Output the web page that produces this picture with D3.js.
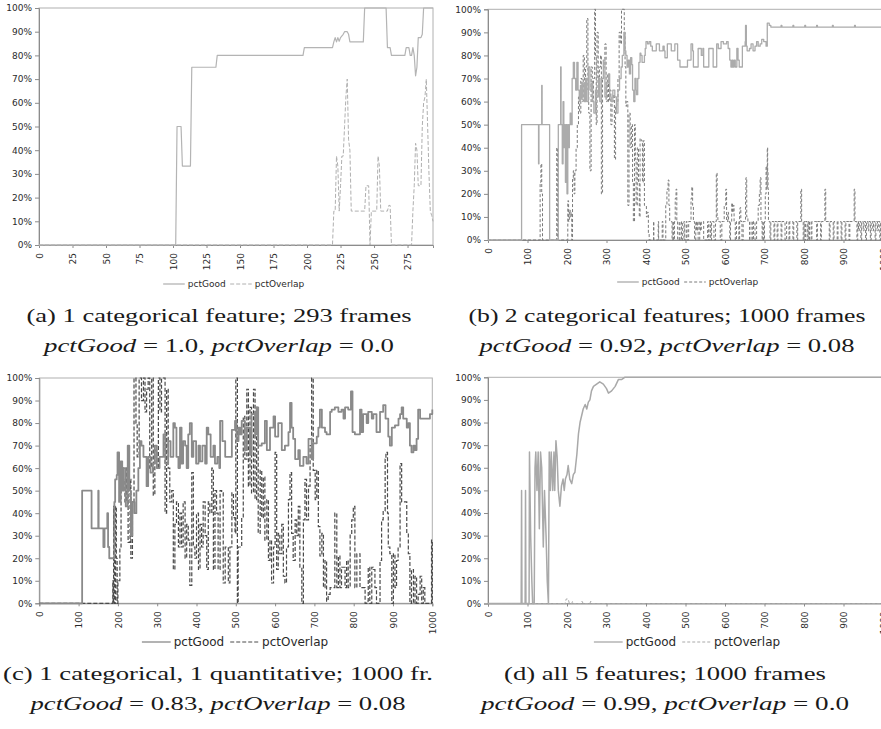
<!DOCTYPE html>
<html>
<head>
<meta charset="utf-8">
<script src="https://cdn.jsdelivr.net/npm/d3@7"></script>
<style>
  body { margin: 0; background: #fff; }
  svg { display: block; }
</style>
</head>
<body>
<script>
// tick labels
const yTicks = [0, 10, 20, 30, 40, 50, 60, 70, 80, 90, 100];
const ticks293 = [0, 25, 50, 75, 100, 125, 150, 175, 200, 225, 250, 275];
const ticks1000 = [0, 100, 200, 300, 400, 500, 600, 700, 800, 900, 1000];
const seriesNames = ['pctGood', 'pctOverlap'];

// (a) 1 categorical feature, 293 frames  [frame, percent]
const goodA = [[0,0],[102,0],[103,50],[106,50],[107,33.3],[113,33.3],[114,75],[132,75],[133,80],[197,80],[198,83.3],
  [219,83.3],[220,85.7],[221,87.5],[222,85.7],[223,87.5],[224,86],[225,87.5],[227,88.9],[228,90],[230,90],[231,88.9],
  [232,85.7],[242,85.7],[243,100],[259,100],[260,83.3],[262,83.3],[263,80],[273,80],[274,83.3],[276,83.3],[277,80],
  [278,80],[279,83.3],[280,80],[281,71.4],[282,75],[283,87.5],[285,87.5],[286,88.9],[287,100],[294,100]];
const overlapA = [[0,0],[219,0],[220,14.3],[221,14.3],[222,37.5],[223,33.3],[224,14.3],[225,25],[226,37.5],[227,37.5],
  [228,50],[229,62.5],[230,70],[231,44.4],[232,40],[233,14.3],[243,14.3],[244,25],[246,25],[247,0],[248,14.3],[252,14.3],
  [253,37.5],[254,33.3],[255,14.3],[260,14.3],[261,16.7],[262,16.7],[263,0],[278,0],[279,14.3],[280,25],[281,42.9],
  [282,40],[283,25],[285,25],[286,50],[287,60],[288,62.5],[289,70],[290,50],[291,30],[292,14.3],[293,12.5],[294,10]];

// (b) 2 categorical features, 1000 frames
const goodB = [[0,0],[84,0],[85,50],[127,50],[128,33],[129,50],[135,50],[136,67],[137,50],[155,50],[156,0],[177,0],
  [178,50],[183,50],[184,75],[185,50],[188,33],[190,60],[192,40],[194,50],[196,25],[198,50],[200,20],[202,50],[204,40],
  [206,50],[208,55],[210,50],[213,70],[216,77],[219,70],[222,65],[225,77],[228,65],[231,60],[234,67],[237,62],[240,68],
  [244,60],[247,70],[250,60],[254,75],[258,65],[262,68],[265,60],[268,55],[272,65],[276,62],[280,70],[283,60],[287,70],
  [292,78],[296,62],[300,68],[305,72],[308,62],[312,60],[316,65],[321,62],[325,55],[329,65],[333,70],[337,75],[340,80],
  [344,90],[347,82],[349,80],[352,75],[355,78],[358,72],[361,79],[364,76],[366,65],[369,60],[372,70],[375,65],[376,63],
  [379,70],[382,77],[385,81],[387,80],[390,77],[393,77],[396,80],[398,83],[400,86],[404,85],[408,86],[412,84],[416,82],
  [422,82],[426,85],[431,85],[434,82],[440,82],[443,84],[446,82],[448,79],[452,79],[454,85],[461,85],[464,82],[470,82],
  [473,85],[478,85],[480,78],[484,78],[486,75],[503,75],[505,78],[514,85],[518,82],[520,75],[530,75],[532,83],[538,83],
  [540,80],[544,83],[546,75],[557,75],[559,83],[568,83],[570,75],[577,75],[579,85],[583,83],[590,86],[596,85],[600,85],
  [604,86],[608,83],[612,78],[615,75],[618,78],[620,75],[623,78],[626,75],[630,83],[633,78],[636,75],[642,75],[644,84],
  [651,86],[652,93],[654,84],[656,82],[662,83],[666,85],[671,82],[676,84],[680,86],[684,84],[689,85],[693,87],[698,86],
  [704,84],[706,84],[707,94],[712,93],[716,92.3],[740,92.3],[742,93],[744,92.3],[770,92.3],[772,93],[774,92.3],
  [800,92.3],[802,93],[804,92.3],[830,92.3],[832,93],[834,92.3],[870,92.3],[872,93],[874,92.3],[926,92.3],[928,93],
  [930,92.3],[1000,92.3]];
const overlapB = [[0,0],[130,0],[132,25],[134,33],[136,20],[138,0],[172,0],[174,40],[176,0],[200,0],[202,17],[204,8],
  [206,13],[208,10],[210,12],[212,0],[214,27],[216,30],[218,20],[220,30],[223,40],[226,50],[229,62],[232,55],[235,70],
  [238,60],[241,80],[244,60],[247,75],[250,96],[253,65],[255,55],[258,30],[261,75],[264,60],[267,70],[270,100],[272,80],
  [274,50],[276,90],[279,70],[282,75],[285,80],[287,20],[290,70],[293,75],[296,85],[299,60],[302,72],[305,60],[308,65],
  [311,50],[314,60],[317,63],[320,35],[323,58],[326,60],[329,70],[332,90],[335,85],[338,100],[342,100],[345,90],[347,75],
  [349,58],[351,60],[354,15],[357,55],[360,40],[363,50],[366,25],[368,8],[371,50],[373,35],[375,15],[378,40],[381,25],
  [383,10],[385,44],[388,43],[391,25],[393,43],[396,15],[399,15],[401,10],[403,12],[406,3],[408,0],[418,0],[419,8],
  [420,0],[430,0],[431,8],[432,0],[440,0],[441,8],[443,0],[448,0],[450,15],[453,22],[456,26],[458,15],[460,8],[465,8],
  [466,0],[468,8],[470,0],[472,8],[474,18],[476,22],[478,8],[480,0],[484,8],[486,0],[490,8],[492,0],[496,8],[498,0],
  [502,8],[504,0],[508,8],[512,8],[514,18],[516,23],[518,15],[520,8],[523,0],[526,8],[528,4],[530,8],[532,0],[536,8],
  [538,4],[540,8],[544,8],[546,0],[552,0],[556,8],[558,0],[562,8],[564,0],[566,8],[570,8],[572,0],[576,8],[578,29],
  [580,10],[582,8],[586,8],[588,0],[592,8],[596,8],[598,15],[602,22],[604,8],[607,12],[609,8],[612,0],[614,8],[617,16],
  [619,12],[621,15],[623,8],[626,0],[629,8],[633,8],[635,0],[637,12],[638,14],[640,8],[643,0],[646,8],[650,8],[652,20],
  [653,27],[655,10],[658,8],[662,0],[666,8],[670,0],[672,8],[676,0],[680,8],[684,15],[687,20],[689,27],[691,8],[694,0],
  [696,8],[698,0],[700,8],[702,20],[704,32],[706,22],[707,40],[708,30],[709,22],[710,8],[712,8],[714,0],[716,8],
  [722,8],[724,0],[726,8],[730,8],[732,0],[734,8],[740,8],[742,0],[744,8],[750,8],[752,0],[756,8],[760,8],[762,0],
  [764,8],[770,8],[772,0],[774,8],[780,8],[782,0],[784,8],[790,8],[792,22],[794,8],[798,0],[800,8],[802,0],[804,8],
  [808,0],[810,8],[812,0],[814,8],[818,0],[820,8],[830,8],[832,0],[834,8],[840,8],[842,0],[844,8],[851,8],[853,22],
  [855,8],[862,8],[864,0],[866,8],[872,8],[874,0],[876,8],[882,8],[884,0],[886,8],[892,8],[894,0],[896,8],[902,8],
  [904,0],[906,8],[912,8],[914,0],[916,8],[925,8],[927,22],[929,8],[932,8],[934,0],[936,8],[938,4],[940,8],[944,0],
  [946,8],[950,4],[952,8],[956,0],[958,8],[962,4],[964,8],[968,0],[970,8],[974,4],[976,8],[980,0],[982,8],[986,4],
  [988,8],[992,0],[994,8],[998,4],[1000,8]];

// (c) 1 categorical, 1 quantitative, 1000 frames
const goodC = [[0,0],[108,0],[109,50],[132,50],[133,33.3],[149,33.3],[150,50],[151,33.3],[162,33.3],[163,25],[166,33.3],
  [172,33.3],[173,40],[175,25],[178,20],[188,20],[191,45],[193,55],[197,57],[199,67],[203,45],[207,63],[211,50],[215,60],
  [220,43],[225,70],[229,50],[233,30],[237,45],[242,40],[247,50],[252,60],[256,72],[260,70],[265,65],[273,52],[277,65],
  [283,58],[289,62],[294,70],[299,60],[306,65],[311,65],[316,75],[321,62],[328,72],[334,65],[341,80],[345,78],[349,65],
  [354,60],[358,78],[362,62],[366,72],[371,70],[375,60],[379,75],[383,80],[388,65],[392,72],[399,62],[405,70],[409,63],
  [415,70],[422,62],[426,78],[430,75],[436,65],[443,70],[447,62],[453,65],[458,60],[460,81],[466,72],[473,65],[481,65],
  [490,77],[498,81],[502,72],[507,78],[511,75],[515,81],[523,68],[528,78],[536,66],[540,84],[549,75],[553,87],[557,70],
  [566,71],[574,81],[579,68],[587,78],[596,83],[600,74],[608,80],[617,68],[625,70],[634,76],[638,89],[642,78],[646,73],
  [651,64],[659,68],[663,61],[672,65],[680,62],[685,73],[693,64],[697,71],[706,74],[710,78],[714,86],[719,78],[727,76],
  [731,75],[740,85],[744,86],[752,87],[761,85],[769,86],[774,82],[778,87],[786,86],[793,94],[797,76],[803,75],[812,75],
  [816,86],[820,76],[824,84],[833,80],[837,85],[846,82],[850,84],[858,76],[867,85],[875,88],[881,82],[888,74],[892,70],
  [897,78],[905,79],[914,82],[918,84],[922,87],[926,82],[935,78],[939,80],[943,70],[947,67],[952,70],[956,68],[960,73],
  [964,86],[969,82],[977,82],[986,82],[994,84],[1000,86]];
const overlapC = [[0,0],[186,0],[187,10],[188,0],[189,43],[190,30],[191,0],[193,0],[194,43],[196,20],[198,0],[200,10],
  [205,25],[208,60],[214,55],[218,45],[222,60],[226,27],[231,55],[233,20],[237,45],[241,100],[246,80],[249,65],[254,100],
  [260,90],[265,100],[269,85],[273,95],[277,100],[281,60],[286,100],[290,48],[294,68],[299,60],[303,100],[307,85],
  [311,100],[315,100],[320,40],[324,95],[328,60],[332,45],[337,50],[341,15],[345,35],[349,45],[354,25],[358,40],[362,25],
  [366,45],[371,20],[375,35],[379,28],[383,8],[388,58],[392,25],[396,20],[400,40],[405,15],[409,35],[413,25],[417,45],
  [422,30],[426,15],[430,45],[434,40],[439,60],[443,15],[447,50],[451,40],[455,15],[460,50],[464,49],[468,9],[473,25],
  [481,9],[485,25],[490,49],[494,38],[498,31],[500,100],[504,0],[506,25],[515,38],[519,83],[523,64],[528,95],[532,52],
  [536,87],[540,49],[545,95],[549,46],[553,87],[557,31],[562,59],[566,38],[570,56],[574,28],[579,46],[583,19],[587,28],
  [591,9],[596,25],[600,67],[604,15],[608,31],[612,22],[617,35],[621,12],[625,9],[629,25],[634,46],[638,58],[642,31],
  [646,19],[651,37],[655,30],[659,43],[663,16],[668,0],[672,37],[676,55],[680,37],[685,52],[689,70],[693,100],[697,59],
  [702,46],[706,59],[710,34],[714,21],[719,31],[723,7],[727,19],[731,1],[735,4],[740,7],[748,7],[752,40],[757,7],
  [761,21],[765,7],[769,16],[778,7],[782,19],[786,7],[791,31],[795,37],[799,43],[803,7],[808,22],[816,7],[824,7],
  [829,0],[833,1],[837,16],[841,0],[846,16],[850,15],[854,7],[858,0],[867,19],[871,37],[875,41],[880,64],[882,67],
  [886,40],[888,25],[892,22],[897,0],[901,22],[905,7],[909,19],[913,25],[918,62],[922,45],[930,45],[935,31],[939,22],
  [943,0],[947,15],[952,0],[956,12],[960,0],[964,4],[969,12],[973,0],[977,7],[981,0],[994,0],[998,28],[1000,0]];

// (d) all 5 features, 1000 frames
const goodD = [[0,0],[84,0],[85,50],[86,0],[94,0],[95,50],[96,0],[104,0],[105,67],[108,30],[111,10],[113,0],[117,0],
  [119,60],[121,67],[124,50],[127,67],[130,33],[133,67],[136,60],[140,25],[143,50],[147,30],[150,10],[153,0],[155,67],
  [158,50],[160,67],[164,50],[167,67],[169,50],[172,72],[175,65],[178,50],[182,43],[186,52],[190,55],[193,50],[196,55],
  [200,57],[203,61],[207,55],[212,53],[216,57],[220,58],[225,66],[229,75],[233,80],[237,83],[241,86],[246,88],[250,86],
  [254,89],[258,90],[262,94],[267,96],[275,97],[283,98],[292,97],[300,95],[305,93],[313,94],[322,96],[330,99],[338,99],
  [346,100],[1000,100]];
const overlapD = [[0,0],[195,0],[198,2],[203,2],[206,0],[212,0],[214,1],[217,0],[236,0],[238,1],[241,0],[258,0],[260,1],
  [263,0],[1000,0]];

const captionsL1 = ['(a) 1 categorical feature; 293 frames', '(b) 2 categorical features; 1000 frames',
  '(c) 1 categorical, 1 quantitative; 1000 fr.', '(d) all 5 features; 1000 frames'];
const goodValues = ['1.0', '0.92', '0.83', '0.99'];
const overlapValues = ['0.0', '0.08', '0.08', '0.0'];

const W = 881, H = 729;
const svg = d3.select('body').append('svg').attr('width', W).attr('height', H)
  .style('font-family', '"DejaVu Sans", sans-serif');

const panels = [
  { good: goodA, over: overlapA, ticks: ticks293, domain: [0, 294], x0: 39, x1: 433, yTop: 8, yBot: 245,
    legY: 284, legFs: 9, legCx: 236, capX: 219, capY: 322, w1: 385, w2: 350, step: false,
    gc: '#b4b4b4', gw: 1.2, oc: '#b0b0b0', ow: 1, dash: '4,2' },
  { good: goodB, over: overlapB, ticks: ticks1000, domain: [0, 1000], x0: 488, x1: 883, yTop: 9.3, yBot: 240,
    legY: 282, legFs: 9, legCx: 690, capX: 667, capY: 322, w1: 397, w2: 375, step: true,
    gc: '#ababab', gw: 1.3, oc: '#7a7a7a', ow: 1, dash: '3,2' },
  { good: goodC, over: overlapC, ticks: ticks1000, domain: [0, 1000], x0: 39.3, x1: 432.3, yTop: 378, yBot: 603.3,
    legY: 642, legFs: 12, legCx: 238, capX: 218, capY: 680, w1: 430, w2: 375, step: true,
    gc: '#8a8a8a', gw: 1.8, oc: '#4a4a4a', ow: 1.2, dash: '4,2' },
  { good: goodD, over: overlapD, ticks: ticks1000, domain: [0, 1000], x0: 488, x1: 883, yTop: 377.3, yBot: 603.5,
    legY: 642, legFs: 12, legCx: 690, capX: 665, capY: 680, w1: 322, w2: 368, step: false,
    gc: '#a9a9a9', gw: 1.5, oc: '#a9a9a9', ow: 1, dash: '3,2' },
];

panels.forEach((p, i) => {
  const x = d3.scaleLinear().domain(p.domain).range([p.x0, p.x1]);
  const y = d3.scaleLinear().domain([0, 100]).range([p.yBot, p.yTop]);
  const g = svg.append('g');

  // plot area border
  g.append('rect').attr('x', p.x0).attr('y', p.yTop)
    .attr('width', p.x1 - p.x0).attr('height', p.yBot - p.yTop)
    .attr('fill', 'none').attr('stroke', '#b0b0b0').attr('stroke-width', 1);

  // y axis
  const ya = g.append('g').attr('transform', `translate(${p.x0},0)`)
    .call(d3.axisLeft(y).tickValues(yTicks).tickSize(4).tickPadding(3).tickFormat(d => d + '%'));
  ya.select('.domain').attr('stroke', '#8c8c8c');
  ya.selectAll('.tick line').attr('stroke', '#8c8c8c');
  ya.selectAll('text').attr('font-size', 9).attr('fill', '#2a2a2a').attr('font-family', '"DejaVu Sans", sans-serif');

  // x axis, rotated labels
  const xa = g.append('g').attr('transform', `translate(0,${p.yBot})`)
    .call(d3.axisBottom(x).tickValues(p.ticks).tickSize(3).tickFormat(d3.format('d')));
  xa.select('.domain').attr('stroke', '#8c8c8c');
  xa.selectAll('.tick line').attr('stroke', '#8c8c8c');
  xa.selectAll('text')
    .attr('font-size', 9).attr('fill', '#2a2a2a').attr('font-family', '"DejaVu Sans", sans-serif')
    .attr('text-anchor', 'end').attr('transform', 'rotate(-90)')
    .attr('x', -8).attr('y', 0).attr('dy', '0.35em');

  const line = d3.line().x(d => x(d[0])).y(d => y(d[1]))
    .curve(p.step ? d3.curveStepAfter : d3.curveLinear);
  g.append('path').datum(p.over).attr('d', line).attr('fill', 'none')
    .attr('stroke', p.oc).attr('stroke-width', p.ow).attr('stroke-dasharray', p.dash);
  g.append('path').datum(p.good).attr('d', line).attr('fill', 'none')
    .attr('stroke', p.gc).attr('stroke-width', p.gw).attr('stroke-linejoin', 'round');

  // legend, centred under the plot
  const lg = g.append('g').attr('font-size', p.legFs).attr('fill', '#2a2a2a');
  const sw = p.legFs * 2.4;
  let cx = 0;
  seriesNames.forEach((name, k) => {
    lg.append('line').attr('x1', cx).attr('x2', cx + sw).attr('y1', 0).attr('y2', 0)
      .attr('stroke', k === 0 ? p.gc : p.oc).attr('stroke-width', k === 0 ? 1.3 : 1)
      .attr('stroke-dasharray', k === 0 ? null : p.dash);
    const t = lg.append('text').attr('x', cx + sw + 3).attr('y', 0).attr('dy', '0.35em').text(name);
    cx += sw + 3 + t.node().getComputedTextLength() + p.legFs * 0.5;
  });
  lg.attr('transform', `translate(${p.legCx - cx / 2},${p.legY})`);

  // caption
  const cap = svg.append('g').attr('font-family', '"Liberation Serif", "Times New Roman", serif')
    .attr('font-size', 19).attr('fill', '#1a1a1a').attr('text-anchor', 'middle');
  cap.append('text').attr('x', p.capX).attr('y', p.capY)
    .attr('textLength', p.w1).attr('lengthAdjust', 'spacingAndGlyphs').text(captionsL1[i]);
  const t2 = cap.append('text').attr('x', p.capX).attr('y', p.capY + 30)
    .attr('textLength', p.w2).attr('lengthAdjust', 'spacingAndGlyphs');
  t2.append('tspan').attr('font-style', 'italic').text('pctGood');
  t2.append('tspan').text(` = ${goodValues[i]}, `);
  t2.append('tspan').attr('font-style', 'italic').text('pctOverlap');
  t2.append('tspan').text(` = ${overlapValues[i]}`);
});
</script>
</body>
</html>
